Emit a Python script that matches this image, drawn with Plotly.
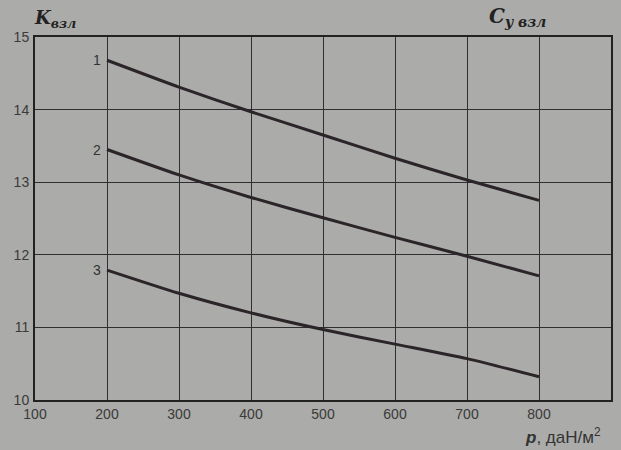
import plotly.graph_objects as go

p_vals = [200, 300, 400, 500, 600, 700, 800]
curve1 = [14.68, 14.31, 13.97, 13.65, 13.33, 13.03, 12.75]
curve2 = [13.45, 13.10, 12.79, 12.51, 12.24, 11.98, 11.71]
curve3 = [11.79, 11.47, 11.20, 10.97, 10.77, 10.57, 10.32]
curve_labels = ["1", "2", "3"]
x_ticks = [100, 200, 300, 400, 500, 600, 700, 800]
y_ticks = [10, 11, 12, 13, 14, 15]

bg = "#ababa9"
ink = "#2b2529"

fig = go.Figure()
for ys, lab in zip([curve1, curve2, curve3], curve_labels):
    fig.add_trace(go.Scatter(x=p_vals, y=ys, mode="lines",
                             line=dict(color=ink, width=3, shape="spline", smoothing=0.6),
                             showlegend=False, hoverinfo="skip"))
    fig.add_annotation(x=p_vals[0], y=ys[0], text=lab, showarrow=False,
                       xanchor="right", yanchor="middle", xshift=-4,
                       font=dict(family="Liberation Sans, Arial", size=14, color="#333"))

fig.update_xaxes(range=[100, 900], tickvals=x_ticks, ticktext=[str(v) for v in x_ticks],
                 showgrid=True, gridcolor="#2f2f2f", gridwidth=1.3,
                 showline=True, linecolor="#222", linewidth=2, mirror=True,
                 ticks="", zeroline=False,
                 tickfont=dict(family="Liberation Sans, Arial", size=14, color="#3a3a3a"))
fig.update_yaxes(range=[10, 15], tickvals=y_ticks, ticktext=[str(v) for v in y_ticks],
                 showgrid=True, gridcolor="#2f2f2f", gridwidth=1.3,
                 showline=True, linecolor="#222", linewidth=2, mirror=True,
                 ticks="", zeroline=False, ticklabelstandoff=1,
                 tickfont=dict(family="Liberation Sans, Arial", size=14, color="#3a3a3a"))

fig.add_annotation(xref="paper", yref="paper", x=-0.005, y=1.0, yshift=4,
                   xanchor="left", yanchor="bottom", showarrow=False,
                   text="<b><i>K</i></b><sub><b><i>взл</i></b></sub>",
                   font=dict(family="DejaVu Serif, Liberation Serif", size=18, color="#222"))
fig.add_annotation(xref="paper", yref="paper", x=0.785, y=1.0, yshift=5,
                   xanchor="left", yanchor="bottom", showarrow=False,
                   text="<b><i>C</i></b><sub><b><i>y взл</i></b></sub>",
                   font=dict(family="DejaVu Serif, Liberation Serif", size=20, color="#222"))
fig.add_annotation(xref="paper", yref="paper", x=0.848, y=0, yshift=-36,
                   xanchor="left", yanchor="middle", showarrow=False,
                   text="<b><i>p</i></b>, даН/м<sup>2</sup>",
                   font=dict(family="Liberation Sans, Arial", size=17, color="#333"))

fig.update_layout(width=621, height=450,
                  margin=dict(l=35, r=8, t=37, b=50),
                  paper_bgcolor=bg, plot_bgcolor=bg)

fig.write_html("out.html")
